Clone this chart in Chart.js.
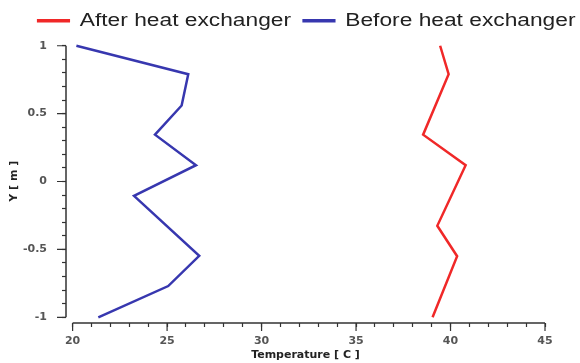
<!DOCTYPE html>
<html>
<head>
<meta charset="utf-8">
<script src="https://cdn.jsdelivr.net/npm/chart.js@4.4.1/dist/chart.umd.min.js"></script>
<style>
  html, body { margin: 0; padding: 0; background: #fff; }
  #wrap { width: 580px; height: 363px; }
</style>
</head>
<body>
<div id="wrap"><canvas id="myChart" width="580" height="363"></canvas></div>
<script>
// data
const afterY = [1, 0.79, 0.345, 0.12, -0.326, -0.55, -1];
const afterTemp = [39.45, 39.9, 38.55, 40.8, 39.3, 40.35, 39.05];
const beforeY = [1, 0.79, 0.56, 0.345, 0.12, -0.106, -0.547, -0.77, -1];
const beforeTemp = [20.2, 26.12, 25.77, 24.36, 26.53, 23.25, 26.7, 25.06, 21.36];

// tick labels
const xMajorTicks = [20, 25, 30, 35, 40, 45];
const yMajorTicks = [-1, -0.5, 0, 0.5, 1];
const xMinorStep = 1;
const yMinorStep = 0.1;

// the original legend is stretched sideways
const legendStretch = 1.3;
const legendCenterX = 307;

function toPoints(xs, ys) {
  return xs.map((x, i) => ({ x: x, y: ys[i] }));
}

function minorTicks(majors, step) {
  const out = [];
  const lo = majors[0], hi = majors[majors.length - 1];
  const n = Math.round((hi - lo) / step);
  for (let i = 0; i <= n; i++) out.push({ value: +(lo + i * step).toFixed(4) });
  return out;
}

function isMajor(v, majors) {
  return majors.some(m => Math.abs(m - v) < 1e-6);
}

// axis lines that stop at the first/last tick, plus longer major ticks
const axisPlugin = {
  id: 'axisLines',
  beforeDraw(chart) {
    const lg = chart.legend;
    if (lg && !lg._stretched) {
      const orig = lg.draw;
      lg.draw = function () {
        const c = this.ctx;
        const cx = (this.left + this.right) / 2;
        c.save();
        c.translate(legendCenterX, 0);
        c.scale(legendStretch, 1);
        c.translate(-cx, 0);
        orig.apply(this, arguments);
        c.restore();
      };
      lg._stretched = true;
    }
  },
  afterDraw(chart) {
    const c = chart.ctx;
    const xs = chart.scales.x, ys = chart.scales.y;
    const area = chart.chartArea;
    c.save();
    c.strokeStyle = '#333';
    c.lineWidth = 1.5;
    c.beginPath();
    c.moveTo(xs.getPixelForValue(xMajorTicks[0]), area.bottom);
    c.lineTo(xs.getPixelForValue(xMajorTicks[xMajorTicks.length - 1]), area.bottom);
    c.moveTo(area.left, ys.getPixelForValue(yMajorTicks[0]));
    c.lineTo(area.left, ys.getPixelForValue(yMajorTicks[yMajorTicks.length - 1]));
    c.stroke();
    c.lineWidth = 1.2;
    c.beginPath();
    xMajorTicks.forEach(v => {
      const px = xs.getPixelForValue(v);
      c.moveTo(px, area.bottom);
      c.lineTo(px, area.bottom + 8);
    });
    yMajorTicks.forEach(v => {
      const py = ys.getPixelForValue(v);
      c.moveTo(area.left, py);
      c.lineTo(area.left - 9, py);
    });
    c.stroke();
    c.restore();
  }
};

const ctx = document.getElementById('myChart').getContext('2d');
const myChart = new Chart(ctx, {
  type: 'line',
  data: {
    datasets: [{
      label: 'After heat exchanger',
      data: toPoints(afterTemp, afterY),
      borderColor: 'rgb(240, 40, 40)',
      backgroundColor: 'rgb(240, 40, 40)',
      borderWidth: 2.5,
      pointRadius: 0,
      tension: 0,
      clip: false
    }, {
      label: 'Before heat exchanger',
      data: toPoints(beforeTemp, beforeY),
      borderColor: 'rgb(55, 55, 175)',
      backgroundColor: 'rgb(55, 55, 175)',
      borderWidth: 2.5,
      pointRadius: 0,
      tension: 0,
      clip: false
    }]
  },
  options: {
    responsive: false,
    animation: false,
    layout: { padding: { left: 0, right: 35, top: 2, bottom: 0 } },
    plugins: {
      legend: {
        display: true,
        position: 'top',
        labels: {
          boxWidth: 23,
          boxHeight: 1,
          padding: 10,
          color: '#222',
          font: { family: 'Liberation Sans', size: 17.5 }
        }
      },
      tooltip: { enabled: false }
    },
    scales: {
      x: {
        type: 'linear',
        min: 19.65,
        max: 45,
        border: { display: false },
        grid: { drawOnChartArea: false, drawTicks: true, tickLength: 4, tickColor: '#333', tickWidth: 1.2 },
        afterBuildTicks: s => { s.ticks = minorTicks(xMajorTicks, xMinorStep); },
        afterFit: s => { s.height = 40; },
        ticks: {
          autoSkip: false,
          maxRotation: 0,
          padding: 8,
          color: '#555',
          font: { family: 'DejaVu Sans', size: 11, weight: 'bold' },
          callback: v => isMajor(v, xMajorTicks) ? String(v) : ''
        },
        title: {
          display: true,
          text: 'Temperature [ C ]',
          color: '#222',
          padding: { top: 0, bottom: 1 },
          font: { family: 'DejaVu Sans', size: 11, weight: 'bold' }
        }
      },
      y: {
        type: 'linear',
        min: -1.042,
        max: 1.046,
        border: { display: false },
        grid: { drawOnChartArea: false, drawTicks: true, tickLength: 4, tickColor: '#333', tickWidth: 1.2 },
        afterBuildTicks: s => { s.ticks = minorTicks(yMajorTicks, yMinorStep); },
        afterFit: s => { s.width = 66; },
        ticks: {
          autoSkip: false,
          padding: 15,
          color: '#555',
          font: { family: 'DejaVu Sans', size: 11, weight: 'bold' },
          callback: v => isMajor(v, yMajorTicks) ? String(v) : ''
        },
        title: {
          display: true,
          text: 'Y [ m ]',
          color: '#222',
          padding: { top: 8, bottom: 0 },
          font: { family: 'DejaVu Sans', size: 11, weight: 'bold' }
        }
      }
    }
  },
  plugins: [axisPlugin]
});
</script>
</body>
</html>
